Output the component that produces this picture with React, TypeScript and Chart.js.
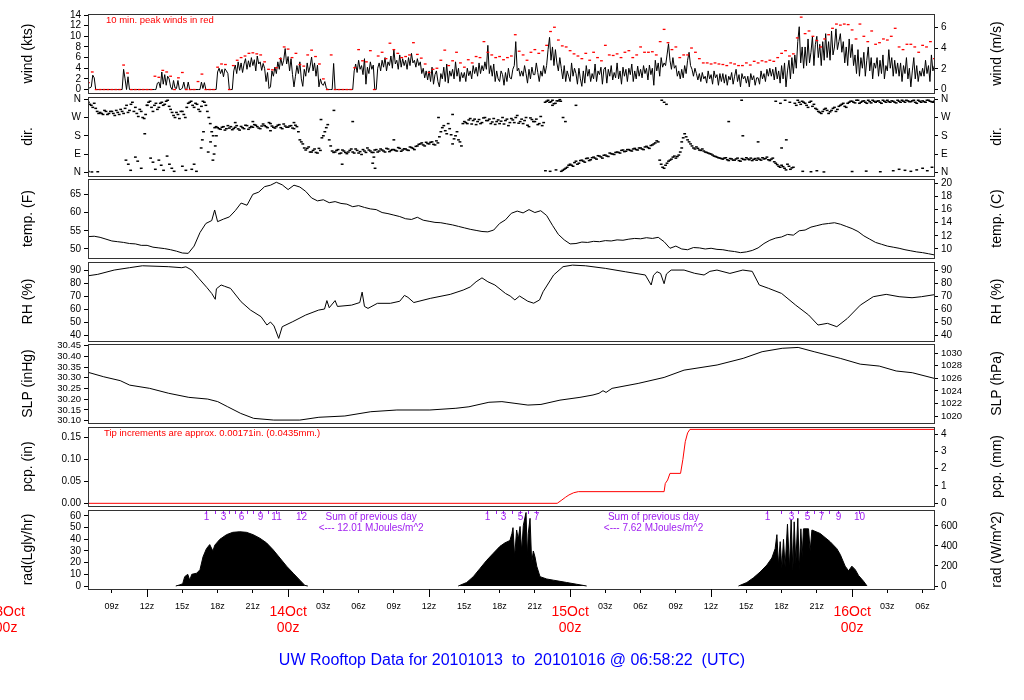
import React, { useEffect, useRef } from 'react';
import { Chart, registerables } from 'chart.js';

Chart.register(...registerables);

const FONT = '"Liberation Sans", Arial, Helvetica, sans-serif';

// ================= DATA =================
// time in hours after 2010-10-13 00z
const X_MIN = 6.97;
const X_MAX = 78.97;
const HOUR_TICKS = [9, 12, 15, 18, 21, 24, 27, 30, 33, 36, 39, 42, 45, 48, 51, 54, 57, 60, 63, 66, 69, 72, 75, 78];
const LONG_TICKS = [12, 24, 36, 48, 60, 72];
const DATE_TICKS = [0, 24, 48, 72];
const DATE_LABELS = ['13Oct', '14Oct', '15Oct', '16Oct'];
const TITLE = 'UW Rooftop Data for 20101013  to  20101016 @ 06:58:22  (UTC)';

// wind speed (kts), sampled every 7.5 min from 07z Oct 13 (one row = 1 hour)
const WIND_T0 = 7;
const WIND_DT = 0.125;
const WIND_KTS = [
  0.4, 0.3, 0.5, 2.7, 2.2, 0, 0, 0,
  0, 0, 0, 0, 0, 0, 0, 0,
  0, 0, 0, 0, 0, 0, 0, 0,
  3.8, 2.0, 0, 2.4, 0, 0, 0, 0,
  0, 0, 0, 0, 0, 0, 0, 0,
  0, 0, 0, 0, 0, 0, 0, 1.2,
  1.4, 0.3, 3.3, 1.0, 2.8, 0.8, 2.5, 2.0,
  0.5, 0, 1.7, 0.3, 0.2, 1.7, 0, 0,
  0.3, 1.4, 0, 0, 1.4, 0, 0, 0,
  0, 0, 0, 0, 0, 1.4, 0.2, 1.3,
  0, 0, 0, 0, 0, 0, 0, 0,
  3.3, 4.0, 3.0, 3.8, 2.4, 3.9, 3.5, 3.0,
  0, 0, 0, 3.5, 4.6, 3.0, 5.2, 3.6,
  5.0, 3.2, 4.8, 5.8, 3.8, 5.4, 4.2, 6.0,
  4.5, 5.6, 3.5, 6.3, 4.8, 5.2, 3.6, 4.9,
  4.0, 1.5, 3.2, 0.2, 0.5, 3.5, 2.5, 4.2,
  3.0, 5.2, 3.8, 6.0, 4.5, 5.5, 7.7, 4.8,
  6.2, 3.5, 5.8, 2.8, 0.5, 2.5, 4.5, 3.0,
  5.2, 2.0, 0.6, 3.8, 2.5, 5.0, 3.2, 4.4,
  6.1, 3.5, 5.0, 2.5, 4.6, 0.5, 2.0, 1.0,
  0.8, 1.5, 0.3, 0, 0, 0, 0, 4.9,
  0, 0, 0, 0, 0, 0, 0, 0,
  0, 0, 0, 0, 0, 3.5, 4.8, 3.2,
  5.5, 3.8, 4.5, 2.8, 5.8, 1.0, 4.2, 3.0,
  5.2, 3.8, 4.6, 0, 0, 4.0, 5.0, 3.5,
  5.5, 4.2, 6.0, 3.5, 5.2, 4.5, 6.3, 4.0,
  7.5, 4.8, 5.5, 3.8, 6.5, 4.2, 5.8, 4.5,
  5.5, 3.8, 6.0, 4.5, 6.8, 5.0, 5.5, 4.2,
  5.8, 4.5, 5.2, 3.0, 4.0, 2.2, 3.5, 1.8,
  3.5, 1.5, 4.2, 1.0, 2.8, 3.5, 1.5, 0.5,
  3.0, 2.0, 4.2, 1.5, 4.8, 1.2, 3.5, 2.5,
  3.8, 2.0, 5.2, 2.5, 4.0, 1.5, 3.2, 2.2,
  3.2, 1.5, 4.0, 2.6, 3.5, 2.0, 4.5, 3.0,
  4.2, 2.5, 5.0, 3.0, 4.5, 3.5, 5.2, 3.8,
  8.3, 3.0, 4.5, 2.5, 4.8, 1.5, 3.5, 2.0,
  1.5, 3.5, 2.8, 0.8, 3.2, 1.5, 4.0, 2.2,
  2.0, 3.8, 4.5, 9.0, 3.5, 4.0, 2.5, 3.5,
  2.5, 4.5, 3.0, 1.2, 3.8, 2.0, 4.2, 2.8,
  2.8, 5.0, 3.2, 1.5, 3.5, 2.5, 4.5, 3.0,
  4.5, 7.5, 9.8, 5.5, 8.0, 4.5, 7.5, 5.0,
  3.5, 6.0, 4.0, 2.0, 4.5, 1.5, 3.5, 2.5,
  1.5, 5.0, 2.5, 4.0, 3.0, 1.0, 4.0, 2.0,
  0.6, 3.5, 1.2, 4.5, 2.5, 3.8, 1.5, 3.0,
  2.0, 4.8, 1.5, 3.5, 2.8, 4.2, 1.0, 3.8,
  4.2, 1.2, 3.8, 2.5, 4.5, 1.8, 3.2, 2.2,
  5.0, 2.0, 3.5, 1.0, 4.2, 2.5, 3.8, 1.5,
  4.0, 2.8, 4.8, 1.5, 3.5, 2.0, 4.4, 2.5,
  3.8, 2.2, 4.5, 3.0, 4.0, 1.8, 4.6, 2.8,
  4.0, 0.8, 5.5, 3.5, 5.0, 2.5, 6.0, 4.2,
  5.0, 4.5, 6.5, 8.6, 5.5, 3.8, 6.0, 4.0,
  4.5, 2.5, 3.5, 2.0, 3.8, 2.2, 4.5, 3.0,
  5.5, 7.0, 4.5, 3.8, 2.5, 4.0, 3.0, 1.8,
  3.0, 1.5, 3.2, 2.0, 2.5, 1.2, 3.5, 2.0,
  2.8, 1.0, 3.5, 2.2, 2.8, 0.8, 3.0, 1.5,
  3.0, 1.2, 2.8, 0.8, 2.5, 1.8, 3.2, 1.0,
  2.5, 3.8, 1.5, 2.8, 0.5, 3.0, 2.0, 2.5,
  1.2, 2.5, 0.5, 3.0, 1.8, 2.6, 0.8, 2.2,
  2.2, 1.0, 3.5, 2.0, 3.0, 1.5, 3.8, 2.5,
  4.0, 2.5, 3.8, 1.8, 4.2, 2.0, 3.5, 1.2,
  4.5, 2.0, 5.0, 0.5, 3.5, 5.5, 2.0, 6.0,
  3.0, 6.5, 4.0, 9.0, 11.8, 5.0, 8.0, 4.0,
  8.0, 4.5, 9.5, 5.0, 7.0, 10.0, 4.5, 8.5,
  10.0, 6.0, 8.5, 4.5, 9.0, 5.5, 10.5, 6.0,
  9.0, 5.5, 11.0, 6.5, 8.0, 11.4, 7.5, 9.0,
  10.5, 7.0, 9.0, 5.0, 8.0, 4.5, 9.5, 6.0,
  8.5, 4.5, 6.5, 3.0, 7.5, 2.5, 6.0, 4.0,
  7.0, 2.5, 5.5, 8.0, 3.5, 6.0, 2.0, 5.0,
  4.0, 6.0, 2.5, 5.5, 3.0, 6.5, 2.0, 4.5,
  3.5, 7.5, 4.0, 6.0, 2.5, 5.5, 3.0, 5.0,
  2.5, 5.0, 1.5, 4.5, 3.0, 6.0, 2.0, 4.0,
  0.5, 3.5, 6.0, 2.0, 4.5, 1.5, 3.5, 2.5,
  4.0, 2.5, 5.5, 3.0, 4.5, 1.5, 6.5, 3.5,
  4.5,
];

// 10 min. peak wind (kts), one value every 20 min from 07z Oct 13
const PEAK_T0 = 7;
const PEAK_DT = 1 / 3;
const PEAK_KTS = [
  1.3, 3.3, 0, 0, 0, 0, 0, 0, 0, 4.6, 3.1, 0, 0, 0, 0, 0, 0, 2.5,
  2.3, 3.6, 3.3, 2.5, 0, 2.2, 3.2, 0, 0, 0, 1.5, 2.9, 0, 0, 0,
  4.2, 4.8, 4.7, 0, 4.5, 5.5, 6.0, 6.3, 6.8, 6.9, 6.7, 6.5, 5.2, 3.8, 3.7,
  4.1, 5.8, 8.0, 7.6, 6.0, 6.8, 4.7, 4.4, 6.5, 7.4, 6.2, 4.8, 2.0, 0, 6.5,
  0, 0, 0, 0, 0, 4.1, 7.5, 5.4, 5.2, 7.3, 0, 6.3, 7.0, 5.8, 8.7,
  7.5, 6.8, 6.0, 6.2, 6.5, 8.8, 6.6, 5.9, 4.8, 3.2, 3.8, 4.0, 5.5, 7.4, 4.5,
  5.4, 7.0, 5.0, 4.2, 5.6, 5.0, 6.2, 6.0, 9.0, 7.0, 6.5, 6.0, 6.2, 5.6, 6.0,
  6.3, 10.3, 7.2, 6.5, 5.5, 7.0, 7.5, 6.8, 7.3, 8.3, 10.9, 11.7, 9.3, 8.2, 8.0,
  7.3, 6.7, 6.3, 5.8, 6.8, 5.5, 7.0, 6.0, 5.4, 8.3, 6.5, 6.4, 6.7, 6.0, 7.0,
  7.3, 6.0, 6.5, 8.0, 7.0, 7.0, 7.1, 6.5, 9.0, 11.3, 8.8, 7.5, 8.0, 6.0, 6.5,
  6.5, 7.8, 7.0, 5.8, 5.0, 5.0, 4.8, 5.0, 4.8, 4.7, 4.5, 5.0, 4.8, 4.5, 4.5,
  5.0, 4.6, 5.3, 5.0, 5.4, 5.2, 5.5, 5.3, 6.0, 6.8, 7.3, 6.3, 6.7, 9.7, 13.6,
  10.5, 11.0, 10.0, 9.2, 8.0, 9.5, 10.3, 11.5, 12.3, 12.1, 12.3, 12.2, 11.2, 9.5, 12.3,
  10.0, 9.0, 11.0, 8.5, 8.8, 9.5, 9.3, 10.0, 11.5, 8.0, 7.5, 8.5, 8.5, 8.0, 7.0,
  8.3, 8.0, 9.0, 5.8,
];

// wind direction (deg), main band every 15 min from 07z Oct 13
const DIR_T0 = 7;
const DIR_DT = 0.25;
const DIR_DEG = [
  345, 330, 340, 300, 295, 285, 300, 290, 300, 280, 295, 310, 290, 330, 305, 345,
  320, 275, 300, 265, 330, 350, 300, 340, 320, 345, 335, 355, 310, 280, 295, 265,
  300, 270, 340, 350, 320, 335, 300, 350, 330, 270, 200, 220, 220, 212, 225, 215,
  218, 210, 222, 214, 226, 215, 230, 220, 222, 232, 218, 228, 230, 220, 240, 222,
  225, 235, 215, 228, 222, 230, 215, 225, 160, 140, 110, 125, 100, 115, 95, 108,
  180, 220, 160, 105, 100, 112, 95, 105, 92, 108, 100, 115, 95, 88, 105, 120,
  105, 98, 112, 105, 110, 100, 115, 108, 112, 105, 118, 110, 115, 108, 122, 112,
  130, 140, 135, 148, 140, 150, 135, 145, 200, 230, 190, 215, 140, 180, 160, 130,
  250, 240, 265, 255, 235, 260, 245, 270, 255, 240, 265, 250, 240, 270, 255, 230,
  265, 245, 280, 250, 240, 270, 225, 260, 250, 235, 275, 245, 350, 345, 355, 340,
  352, 5, 15, 25, 40, 30, 55, 45, 60, 50, 70, 62, 75, 65, 80, 70,
  85, 78, 92, 88, 100, 95, 110, 104, 112, 105, 118, 110, 120, 112, 128, 118,
  135, 145, 150, 40, 20, 45, 60, 75, 70, 85, 150, 190, 160, 140, 120, 125,
  110, 115, 100, 95, 90, 80, 75, 70, 65, 72, 58, 66, 60, 70, 55, 64,
  72, 62, 58, 68, 70, 60, 66, 75, 58, 70, 45, 30, 35, 20, 40, 15,
  25, 330, 345, 350, 340, 320, 350, 335, 310, 295, 300, 315, 290, 305, 320, 310,
  330, 340, 320, 345, 350, 342, 355, 345, 352, 340, 348, 355, 345, 352, 340, 350,
  355, 345, 350, 342, 350, 355, 345, 352, 348, 355, 340, 350, 352, 345, 355, 348,
  350,
];
// wind direction (deg), readings in between, every 15 min from 07:07:30z
const DIR_B_T0 = 7.125;
const DIR_B_DT = 0.25;
const DIR_DEG_B = [
  335, 320, 315, 290, 290, 305, 285, 300, 290, 305, 285, 300, 315, 295, 335, 300,
  290, 310, 270, 285, 345, 320, 330, 310, 340, 330, 350, 325, 295, 270, 285, 300,
  285, 320, 345, 330, 340, 310, 325, 345, 300, 240, 180, 225, 215, 222, 208, 230,
  225, 216, 230, 208, 220, 232, 212, 226, 235, 225, 215, 238, 225, 245, 228, 218,
  232, 220, 238, 222, 228, 218, 232, 200, 150, 120, 118, 100, 108, 98, 118, 170,
  200, 235, 130, 98, 108, 92, 110, 98, 100, 115, 95, 108, 102, 112, 98, 110,
  98, 110, 100, 115, 105, 118, 102, 112, 108, 122, 104, 116, 110, 125, 118, 128,
  138, 145, 130, 142, 148, 138, 155, 175, 220, 205, 240, 185, 165, 200, 150, 240,
  245, 258, 238, 262, 250, 240, 268, 255, 262, 248, 236, 258, 252, 238, 262, 245,
  258, 270, 242, 262, 255, 232, 268, 250, 262, 240, 230, 345, 355, 348, 338, 352,
  358, 10, 20, 35, 35, 48, 40, 58, 55, 68, 58, 72, 70, 82, 76, 84,
  80, 95, 90, 98, 98, 108, 102, 112, 108, 115, 112, 120, 115, 125, 122, 132,
  140, 155, 60, 25, 35, 55, 65, 80, 78, 100, 170, 175, 150, 130, 115, 118,
  108, 105, 98, 92, 85, 78, 72, 68, 70, 62, 68, 60, 66, 58, 68, 62,
  66, 70, 64, 60, 64, 72, 68, 62, 65, 52, 38, 25, 28, 12, 30, 22,
  340, 355, 335, 345, 330, 345, 325, 315, 300, 290, 310, 305, 298, 315, 300, 325,
  335, 325, 340, 350, 345, 355, 340, 350, 345, 355, 342, 350, 350, 345, 355, 345,
  348, 352, 345, 355, 345, 350, 355, 348, 352, 345, 355, 345, 348, 355, 350, 345,
];
// scattered / wrapped-around direction readings [hour, deg]
const DIR_EXTRA = [
  [7.0, 4], [7.3, 2], [7.8, 3], [10.2, 60], [10.4, 40], [10.6, 10], [11.0, 75], [11.2, 55], [11.5, 20],
  [11.8, 190], [12.0, 330], [12.3, 70], [12.5, 50], [12.7, 15], [13.0, 60], [13.2, 35], [13.4, 10],
  [13.7, 80], [13.9, 40], [14.1, 20], [14.3, 5], [15.0, 30], [15.3, 10], [15.8, 15], [16.0, 40],
  [16.2, 5], [16.6, 120], [16.7, 160], [16.8, 200], [17.2, 100], [17.4, 150], [17.6, 60], [17.7, 90],
  [17.8, 130], [17.9, 180], [19.5, 245], [21.0, 250], [22.5, 205], [24.5, 245], [26.8, 260],
  [27.9, 305], [28.6, 40], [29.5, 250], [31.2, 45], [31.3, 75], [31.4, 20], [33.0, 160], [36.8, 270],
  [38.0, 285], [45.9, 8], [46.3, 5], [46.5, 330], [46.8, 12], [47.2, 350], [47.4, 270], [47.6, 250],
  [48.5, 330], [55.8, 355], [56.0, 345], [56.2, 335], [57.5, 120], [61.5, 250], [62.6, 355],
  [62.7, 180], [64.0, 150], [65.5, 350], [65.9, 340], [66.0, 120], [66.3, 355], [66.4, 160],
  [66.7, 345], [67.8, 5], [68.5, 3], [69.0, 8], [69.6, 2], [72.0, 4], [73.2, 6], [74.4, 3], [75.5, 8],
  [76.0, 15], [76.5, 10], [77.0, 5], [77.5, 12], [78.0, 20], [78.4, 8], [78.8, 25],
];

// temperature (F) [hour, value]
const TEMP_F = [
  [7, 53.4], [7.5, 53.5], [8, 53.2], [8.5, 52.7], [9, 52.2], [9.5, 52.0], [10, 51.8], [10.5, 51.5],
  [11, 51.4], [11.5, 51.0], [12, 51.0], [12.5, 50.5], [13, 50.3], [13.5, 50.1], [14, 49.8], [14.5, 49.4],
  [15, 48.9], [15.5, 48.8], [16, 50.8], [16.5, 54.5], [17, 57.0], [17.5, 57.8], [17.75, 60.7], [18, 57.5],
  [18.5, 58.2], [19, 58.8], [19.5, 60.5], [20, 62.6], [20.5, 62.0], [21, 65.0], [21.5, 65.6], [22, 67.1],
  [22.5, 67.5], [23, 68.3], [23.5, 67.6], [24, 66.3], [24.5, 67.5], [25, 67.0], [25.5, 65.8], [26, 64.0],
  [26.5, 63.2], [27, 63.5], [27.5, 62.7], [28, 63.0], [28.5, 62.5], [29, 62.3], [29.5, 61.6], [30, 61.9],
  [30.5, 61.4], [31, 61.0], [31.5, 60.8], [32, 60.0], [32.5, 59.7], [33, 59.3], [33.5, 58.9], [34, 58.3],
  [34.5, 58.1], [35, 58.7], [35.5, 57.9], [36, 57.6], [36.5, 57.3], [37, 57.2], [37.5, 56.9], [38, 56.6],
  [38.5, 56.2], [39, 55.8], [39.5, 55.4], [40, 55.1], [40.5, 54.8], [41, 54.7], [41.5, 55.2], [42, 57.0],
  [42.5, 58.0], [43, 59.8], [43.5, 60.4], [44, 59.9], [44.5, 60.8], [45, 60.0], [45.5, 60.5], [46, 59.2],
  [46.5, 56.5], [47, 54.0], [47.5, 52.5], [48, 51.4], [48.5, 51.5], [49, 51.9], [49.5, 51.8], [50, 52.1],
  [50.5, 52.0], [51, 52.3], [51.5, 52.2], [52, 52.5], [52.5, 52.4], [53, 52.7], [53.5, 52.9], [54, 52.8],
  [54.5, 53.1], [55, 52.9], [55.5, 53.2], [56, 52.0], [56.5, 50.2], [57, 50.8], [57.5, 50.0], [58, 49.8],
  [58.5, 50.4], [59, 50.3], [59.5, 50.0], [60, 50.2], [60.5, 49.9], [61, 49.8], [61.5, 49.5], [62, 49.3],
  [62.5, 49.0], [63, 49.2], [63.5, 49.6], [64, 50.3], [64.5, 51.5], [65, 52.4], [65.5, 53.0], [66, 53.3],
  [66.5, 54.0], [67, 53.8], [67.5, 55.0], [68, 55.2], [68.5, 56.0], [69, 56.4], [69.5, 56.8], [70, 57.0],
  [70.5, 57.2], [71, 56.8], [71.5, 56.2], [72, 55.6], [72.5, 54.8], [73, 53.6], [73.5, 52.7], [74, 51.8],
  [74.5, 51.3], [75, 50.8], [75.5, 50.5], [76, 50.2], [76.5, 49.8], [77, 49.5], [77.5, 49.2], [78, 49.0],
  [78.5, 48.7], [78.97, 48.4],
];

// relative humidity (%) [hour, value]
const RH_PCT = [
  [6.97, 85.6], [7.8, 86.7], [9.2, 90], [10.5, 91.8], [11.6, 93.3], [13.8, 92.6], [14.95, 91.8], [15.3, 92.5],
  [15.8, 90], [16.4, 83.6], [17.1, 76.4], [17.5, 72], [17.8, 67.5], [17.9, 75.6], [18.3, 78.5], [18.6, 77.5],
  [19.1, 75.9], [20.0, 65.6], [20.8, 59.2], [21.7, 54.1], [22.2, 47.7], [22.5, 50], [22.8, 47], [23.2, 37.4],
  [23.5, 46.4], [24.4, 50.3], [25.5, 55.4], [26.6, 59.2], [27.1, 60], [27.3, 66.5], [27.5, 61], [28.0, 66.5],
  [28.2, 62], [29.4, 63], [30.1, 65], [30.3, 73], [30.5, 62], [30.8, 60.5], [31.6, 64.4], [32.7, 64.4],
  [33.5, 66], [33.9, 70.5], [34.2, 69], [34.7, 65], [36.1, 68.2], [37.8, 71.3], [38.9, 74.6], [39.5, 77],
  [40.0, 81], [40.5, 84], [41.0, 81], [41.6, 78.5], [42.5, 72], [42.9, 70], [43.3, 67], [43.7, 70],
  [44.4, 66], [44.9, 64.5], [45.4, 67], [45.7, 73.3], [46.6, 86.2], [47.4, 92.6], [48.2, 93.8], [49.3, 93.3],
  [51.0, 91.3], [52.7, 88.7], [54.4, 86.2], [54.9, 78.5], [55.1, 86], [55.4, 88.7], [55.7, 87.4], [56.0, 79.5],
  [56.2, 87], [56.6, 90], [57.7, 90], [58.6, 87.5], [59.4, 86.2], [59.9, 89], [60.5, 90], [61.6, 87.4],
  [62.7, 90], [63.5, 89], [64.1, 78.5], [64.9, 75.9], [66.0, 72], [67.2, 63], [68.3, 55.4], [69.1, 47.7],
  [69.9, 49], [70.7, 46.4], [71.6, 52.8], [72.7, 63], [73.8, 69.5], [74.9, 71.3], [76.0, 69.5], [77.1, 68.7],
  [77.9, 69.5], [78.97, 71],
];

// sea-level pressure (inHg) [hour, value]
const SLP_INHG = [
  [6.97, 30.326], [8.31, 30.305], [9.71, 30.287], [10.52, 30.266], [12.22, 30.251], [13.84, 30.228],
  [15.55, 30.209], [17.16, 30.201], [18.01, 30.189], [18.86, 30.165], [19.97, 30.134], [21.07, 30.111],
  [22.78, 30.103], [25.0, 30.103], [26.62, 30.116], [28.83, 30.122], [31.04, 30.142], [33.26, 30.150],
  [36.07, 30.150], [38.28, 30.158], [39.39, 30.165], [41.09, 30.186], [42.2, 30.189], [43.31, 30.181],
  [44.41, 30.173], [45.52, 30.176], [47.14, 30.196], [48.84, 30.209], [49.95, 30.22], [50.46, 30.228],
  [50.8, 30.240], [51.06, 30.232], [51.57, 30.251], [53.79, 30.274], [56.0, 30.302], [57.7, 30.336],
  [60.51, 30.360], [62.73, 30.391], [64.34, 30.422], [66.05, 30.438], [67.41, 30.442], [68.77, 30.422],
  [70.99, 30.391], [72.69, 30.364], [74.31, 30.355], [75.75, 30.332], [77.12, 30.324], [78.97, 30.298],
];

// accumulated precipitation (in) [hour, value]
const PCP_IN = [
  [6.97, 0], [46.9, 0], [47.3, 0.0076], [47.6, 0.0136], [47.9, 0.019], [48.3, 0.024], [48.7, 0.0265],
  [56.0, 0.0265], [56.1, 0.045], [56.3, 0.053], [56.5, 0.068], [57.4, 0.068], [57.6, 0.10], [57.8, 0.14],
  [58.0, 0.16], [58.2, 0.168], [78.97, 0.168],
];

// solar radiation (Langley/hr) [hour, value], one list per day
const RAD_DAY1 = [
  [14.44, 0], [14.8, 1], [15.03, 2], [15.2, 8], [15.46, 10], [15.63, 5], [15.8, 10], [16.23, 11],
  [16.5, 14], [16.76, 25], [17.05, 32], [17.33, 35.5], [17.6, 30], [17.76, 35], [18.19, 40], [18.76, 44],
  [19.29, 46], [19.89, 46.5], [20.46, 46], [21.02, 44], [21.59, 41], [22.16, 37], [22.73, 31], [23.3, 24],
  [23.87, 17], [24.43, 11], [25.0, 5], [25.43, 0.5], [25.68, 0],
];
const RAD_DAY2 = [
  [38.48, 0], [39.2, 3], [39.76, 8], [40.33, 15], [40.9, 22], [41.46, 28], [42.03, 34], [42.46, 37],
  [42.88, 39], [43.05, 45], [43.14, 50], [43.28, 25], [43.45, 48], [43.59, 40], [43.74, 51], [43.88, 30],
  [44.02, 52], [44.25, 63], [44.36, 25], [44.44, 45], [44.59, 58], [44.73, 20], [44.87, 30], [45.01, 25],
  [45.16, 17], [45.44, 8], [46.01, 6], [46.57, 5], [47.14, 4], [47.71, 3], [48.56, 1.5], [49.41, 0],
];
const RAD_DAY3 = [
  [62.33, 0], [63.04, 3], [63.6, 7], [64.17, 12], [64.75, 18], [65.17, 24], [65.45, 32], [65.6, 44],
  [65.73, 18], [65.88, 38], [66.02, 15], [66.16, 40], [66.3, 16], [66.5, 53], [66.67, 15], [66.81, 57],
  [66.96, 14], [67.07, 55], [67.21, 20], [67.38, 58], [67.5, 13], [67.64, 49], [67.75, 25], [67.86, 49],
  [68.29, 49], [68.43, 30], [68.58, 48], [69.28, 45], [70.13, 38], [70.7, 32], [70.99, 27], [71.41, 17],
  [71.7, 13], [71.98, 17], [72.27, 14], [72.55, 9], [72.98, 4], [73.27, 0],
];
// times at which the daily radiation total passes each whole MJ/m^2, and their labels
const RAD_CUM_HOURS = [
  17.05, 17.76, 18.42, 18.95, 19.46, 19.97, 20.49, 21.04, 21.59, 22.27, 23.01, 25.09,
  40.9, 41.69, 42.31, 43.05, 43.74, 44.42, 45.07,
  64.75, 65.96, 66.81, 67.41, 68.15, 68.73, 69.37, 70.05, 70.76, 72.55,
];
const RAD_CUM_LABELS = [
  '1', '', '3', '', '', '6', '', '', '9', '', '11', '12',
  '1', '', '3', '', '5', '', '7',
  '1', '', '3', '', '5', '', '7', '', '9', '10',
];
const RAD_SUM_HOURS = [31.07, 55.1];
const RAD_SUM_VALUES = ['12.01', '7.62'];

// axis tick values
const WIND_TICKS = [0, 2, 4, 6, 8, 10, 12, 14];
const WIND_MS_TICKS = [0, 2, 4, 6];
const DIR_TICKS = [0, 90, 180, 270, 360];
const DIR_NAMES = ['N', 'E', 'S', 'W', 'N'];
const TEMP_F_TICKS = [50, 55, 60, 65];
const TEMP_C_TICKS = [10, 12, 14, 16, 18, 20];
const RH_TICKS = [40, 50, 60, 70, 80, 90];
const SLP_INHG_TICKS = [30.1, 30.15, 30.2, 30.25, 30.3, 30.35, 30.4, 30.45];
const SLP_HPA_TICKS = [1020, 1022, 1024, 1026, 1028, 1030];
const PCP_IN_TICKS = [0, 0.05, 0.1, 0.15];
const PCP_MM_TICKS = [0, 1, 2, 3, 4];
const RAD_LY_TICKS = [0, 10, 20, 30, 40, 50, 60];
const RAD_W_TICKS = [0, 200, 400, 600];

// unit conversions
const KTS_PER_MS = 1.94384;
const f2c = (f: number) => (f - 32) / 1.8;
const HPA_PER_INHG = 33.8639;
const MM_PER_IN = 25.4;
const WM2_PER_LYHR = 11.622;

// ================= LAYOUT =================
const W = 1024;
const H = 700;
const LEFT_AXIS_W = 88;
const RIGHT_AXIS_W = 90;
const X_AXIS_H = 40;
const LEFT_TITLE_X = 28;
const RIGHT_TITLE_X = 997;
const RED = '#ff0000';
const PURPLE = '#a020f0';
const BLUE = '#0000ff';

const hourLabel = (v: number) => {
  const hh = Math.round(v) % 24;
  return hh === 0 ? '' : String(hh).padStart(2, '0') + 'z';
};

const series = (t0: number, dt: number, vals: number[]) => vals.map((v, i) => ({ x: t0 + i * dt, y: v }));
const pairs = (arr: number[][]) => arr.map(([x, y]) => ({ x, y }));

const panelDecor = {
  id: 'panelDecor',
  afterDraw(chart: any, _args: any, o: any) {
    const { ctx, chartArea: a, scales } = chart;
    const xs = scales.x;
    ctx.save();
    // plot box
    ctx.strokeStyle = '#333';
    ctx.lineWidth = 1;
    ctx.strokeRect(a.left + 0.5, a.top + 0.5, a.right - a.left, a.bottom - a.top);
    // axis titles
    const cy = (a.top + a.bottom) / 2;
    ctx.fillStyle = '#000';
    ctx.font = `14px ${FONT}`;
    ctx.textAlign = 'center';
    ctx.textBaseline = 'middle';
    [[LEFT_TITLE_X, o.leftTitle], [RIGHT_TITLE_X, o.rightTitle]].forEach(([x, t]: any) => {
      ctx.save();
      ctx.translate(x, cy);
      ctx.rotate(-Math.PI / 2);
      ctx.fillText(t, 0, 0);
      ctx.restore();
    });
    // notes
    (o.notes || []).forEach((n: any) => {
      ctx.fillStyle = n.color;
      ctx.font = `${n.size}px ${FONT}`;
      ctx.textAlign = 'left';
      ctx.textBaseline = 'middle';
      ctx.fillText(n.text, a.left + n.dx, a.top + n.dy);
    });
    if (o.rad) {
      ctx.strokeStyle = PURPLE;
      ctx.fillStyle = PURPLE;
      ctx.lineWidth = 1;
      ctx.font = `10px ${FONT}`;
      ctx.textAlign = 'center';
      ctx.textBaseline = 'middle';
      RAD_CUM_HOURS.forEach((t, i) => {
        const x = Math.round(xs.getPixelForValue(t)) + 0.5;
        ctx.beginPath();
        ctx.moveTo(x, a.top + 1);
        ctx.lineTo(x, a.top + 4);
        ctx.stroke();
        if (RAD_CUM_LABELS[i]) ctx.fillText(RAD_CUM_LABELS[i], x, a.top + 7);
      });
      RAD_SUM_HOURS.forEach((t, i) => {
        const x = xs.getPixelForValue(t);
        ctx.fillText('Sum of previous day', x, a.top + 7);
        ctx.fillText(`<--- ${RAD_SUM_VALUES[i]} MJoules/m^2`, x, a.top + 18);
      });
    }
    if (o.xExtras) {
      ctx.strokeStyle = '#000';
      ctx.lineWidth = 1;
      LONG_TICKS.forEach((t) => {
        const x = Math.round(xs.getPixelForValue(t)) + 0.5;
        ctx.beginPath();
        ctx.moveTo(x, a.bottom);
        ctx.lineTo(x, a.bottom + 8);
        ctx.stroke();
      });
      ctx.fillStyle = RED;
      ctx.font = `14px ${FONT}`;
      ctx.textAlign = 'center';
      ctx.textBaseline = 'middle';
      DATE_TICKS.forEach((t, i) => {
        const x = xs.getPixelForValue(t);
        ctx.fillText(DATE_LABELS[i], x, a.bottom + 23);
        ctx.fillText('00z', x, a.bottom + 39);
      });
      ctx.fillStyle = BLUE;
      ctx.font = `16px ${FONT}`;
      ctx.fillText(TITLE, W / 2, 661);
    }
    ctx.restore();
  },
};

function yScale(pos: string, min: number, max: number, ticks: number[], fmt: (v: number) => string, size: number) {
  return {
    type: 'linear',
    position: pos,
    min,
    max,
    afterFit: (s: any) => {
      s.width = pos === 'left' ? LEFT_AXIS_W : RIGHT_AXIS_W;
    },
    afterBuildTicks: (s: any) => {
      s.ticks = ticks.map((v) => ({ value: v }));
    },
    ticks: {
      callback: (v: number) => fmt(v),
      font: { family: FONT, size },
      color: '#000',
      padding: 3,
      autoSkip: false,
      maxRotation: 0,
      minRotation: 0,
    },
    grid: { drawOnChartArea: false, drawTicks: true, tickLength: 4, color: '#000', lineWidth: 1 },
    border: { display: false },
  };
}

const lineDs = (data: any[], color = '#000') => ({
  data,
  borderColor: color,
  borderWidth: 1,
  pointRadius: 0,
  fill: false,
});

const dirDs = (data: any[]) => ({
  data,
  showLine: false,
  pointStyle: 'line',
  pointRadius: 1.4,
  pointBorderWidth: 1.5,
  pointBorderColor: '#000',
  borderColor: '#000',
});

const str = (v: number) => String(v);

const PANELS: any[] = [
  {
    top: 14, bottom: 93,
    y: [-0.65, 14.19, WIND_TICKS, str, 10],
    y2: [-0.65 / KTS_PER_MS, 14.19 / KTS_PER_MS, WIND_MS_TICKS, str, 10],
    decor: {
      leftTitle: 'wind (kts)', rightTitle: 'wind (m/s)',
      notes: [{ text: '10 min. peak winds in red', color: RED, size: 9.5, dx: 18, dy: 6 }],
    },
    datasets: [
      {
        data: series(PEAK_T0, PEAK_DT, PEAK_KTS), showLine: false, pointStyle: 'line', pointRadius: 1.4,
        pointBorderWidth: 1.3, pointBorderColor: RED, pointBackgroundColor: RED, borderColor: RED,
      },
      lineDs(series(WIND_T0, WIND_DT, WIND_KTS)),
    ],
  },
  {
    top: 97, bottom: 176,
    y: [-18, 371, DIR_TICKS, (v: number) => DIR_NAMES[DIR_TICKS.indexOf(v)], 10],
    y2: [-18, 371, DIR_TICKS, (v: number) => DIR_NAMES[DIR_TICKS.indexOf(v)], 10],
    decor: { leftTitle: 'dir.', rightTitle: 'dir.' },
    datasets: [
      dirDs(series(DIR_T0, DIR_DT, DIR_DEG)),
      dirDs(series(DIR_B_T0, DIR_B_DT, DIR_DEG_B)),
      dirDs(pairs(DIR_EXTRA)),
    ],
  },
  {
    top: 179, bottom: 258,
    y: [47.53, 69.2, TEMP_F_TICKS, str, 10],
    y2: [f2c(47.53), f2c(69.2), TEMP_C_TICKS, str, 10],
    decor: { leftTitle: 'temp. (F)', rightTitle: 'temp. (C)' },
    datasets: [lineDs(pairs(TEMP_F))],
  },
  {
    top: 262, bottom: 341,
    y: [35.4, 96.2, RH_TICKS, str, 10],
    y2: [35.4, 96.2, RH_TICKS, str, 10],
    decor: { leftTitle: 'RH (%)', rightTitle: 'RH (%)' },
    datasets: [lineDs(pairs(RH_PCT))],
  },
  {
    top: 344, bottom: 423,
    y: [30.0893, 30.458, SLP_INHG_TICKS, (v: number) => v.toFixed(2), 9.5],
    y2: [30.0893 * HPA_PER_INHG, 30.458 * HPA_PER_INHG, SLP_HPA_TICKS, str, 9.5],
    decor: { leftTitle: 'SLP (inHg)', rightTitle: 'SLP (hPa)' },
    datasets: [lineDs(pairs(SLP_INHG))],
  },
  {
    top: 427, bottom: 506,
    y: [-0.0061, 0.1734, PCP_IN_TICKS, (v: number) => v.toFixed(2), 10],
    y2: [-0.0061 * MM_PER_IN, 0.1734 * MM_PER_IN, PCP_MM_TICKS, str, 10],
    decor: {
      leftTitle: 'pcp. (in)', rightTitle: 'pcp. (mm)',
      notes: [{ text: 'Tip increments are approx. 0.00171in. (0.0435mm.)', color: RED, size: 9.5, dx: 16, dy: 6 }],
    },
    datasets: [lineDs(pairs(PCP_IN), RED)],
  },
  {
    top: 510, bottom: 589, showX: true,
    y: [-2.57, 65.14, RAD_LY_TICKS, str, 10],
    y2: [-2.57 * WM2_PER_LYHR, 65.14 * WM2_PER_LYHR, RAD_W_TICKS, str, 10],
    decor: { leftTitle: 'rad(Lgly/hr)', rightTitle: 'rad (W/m^2)', rad: true, xExtras: true },
    datasets: [RAD_DAY1, RAD_DAY2, RAD_DAY3].map((d) => ({
      data: pairs(d), borderColor: '#000', borderWidth: 1, pointRadius: 0, fill: 'origin', backgroundColor: '#000',
    })),
  },
];

function makeConfig(p: any) {
  const showX = !!p.showX;
  return {
    type: 'line',
    data: { datasets: p.datasets.map((d: any) => ({ yAxisID: 'y', ...d })) },
    options: {
      animation: false,
      responsive: false,
      devicePixelRatio: 1,
      events: [],
      layout: { padding: { left: 0, right: 0, top: p.top, bottom: H - p.bottom - (showX ? X_AXIS_H : 0) } },
      elements: { point: { radius: 0 }, line: { tension: 0, borderWidth: 1 } },
      plugins: { legend: { display: false }, tooltip: { enabled: false }, panelDecor: p.decor },
      scales: {
        x: {
          type: 'linear', min: X_MIN, max: X_MAX, display: showX, position: 'bottom',
          afterFit: (s: any) => { s.height = showX ? X_AXIS_H : 0; },
          afterBuildTicks: (s: any) => { s.ticks = HOUR_TICKS.map((v) => ({ value: v })); },
          ticks: {
            callback: (v: number) => hourLabel(v), font: { family: FONT, size: 9 }, color: '#000',
            padding: 8, autoSkip: false, maxRotation: 0, minRotation: 0,
          },
          grid: { drawOnChartArea: false, drawTicks: true, tickLength: 4, color: '#000' },
          border: { display: false },
        },
        y: yScale('left', ...(p.y as [number, number, number[], (v: number) => string, number])),
        y2: yScale('right', ...(p.y2 as [number, number, number[], (v: number) => string, number])),
      },
    },
    plugins: [panelDecor],
  };
}

export default function App() {
  const refs = useRef<(HTMLCanvasElement | null)[]>([]);
  useEffect(() => {
    const charts = PANELS.map((p, i) => new Chart(refs.current[i] as HTMLCanvasElement, makeConfig(p) as any));
    return () => charts.forEach((c) => c.destroy());
  }, []);
  return (
    <div style={{ position: 'absolute', left: 0, top: 0, width: W, height: H, background: '#fff', overflow: 'hidden' }}>
      {PANELS.map((_, i) => (
        <canvas
          key={i}
          ref={(el) => { refs.current[i] = el; }}
          width={W}
          height={H}
          style={{ position: 'absolute', left: 0, top: 0 }}
        />
      ))}
    </div>
  );
}
